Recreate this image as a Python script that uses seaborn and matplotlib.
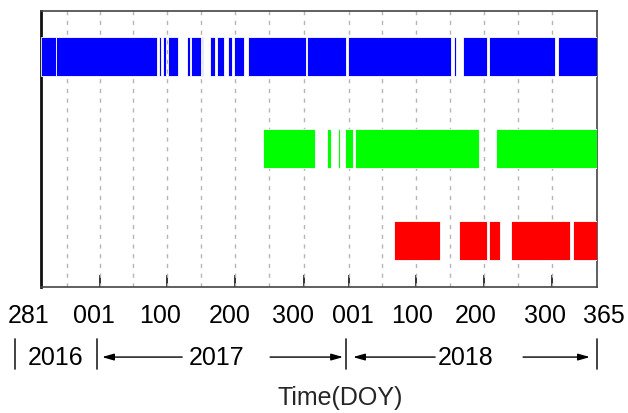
import matplotlib
matplotlib.use("Agg")
import matplotlib.pyplot as plt
import seaborn as sns
import pandas as pd

# ---------------- data (time = days since 2016 DOY 281) ----------------
series = ["blue", "green", "red"]
blue_start = [0, 22, 173, 179, 186, 213.5, 220, 235.5, 248, 257.5, 274.5, 282.5, 304, 390, 450.5, 606, 619, 657, 758]
blue_end   = [22, 170, 175.5, 184, 200.5, 218.5, 234, 237, 255.5, 269, 280, 297.5, 389, 447, 602, 608.5, 654.5, 754, 815]
green_start = [325, 420, 435, 446, 460.5, 667]
green_end   = [402, 425.5, 438.5, 458, 642.5, 815]
red_start = [518, 613, 657, 690, 780.5]
red_end   = [585, 654.5, 673, 776, 815]

tick_labels = ["281", "001", "100", "200", "300", "001", "100", "200", "300", "365"]
year_labels = ["2016", "2017", "2018"]
xlabel = "Time(DOY)"

# ---------------- layout ----------------
major_ticks = [86, 185, 285, 385, 451, 550, 650, 750]
grid_pos = [38, 86, 135, 185, 235, 285, 335, 385, 451, 500, 550, 600, 650, 700, 750]
label_x = [-17.9, 77.7, 174.5, 277, 370, 458, 543.6, 637.7, 739, 825.7]
year_x = [22, 258, 622]
bars_x = [-38, 82, 447, 815]
arrows = [(207, 89.5), (336, 443), (578, 457.6), (707, 805)]

rows = []
for name, s, e in [("blue", blue_start, blue_end), ("green", green_start, green_end), ("red", red_start, red_end)]:
    for a, b in zip(s, e):
        rows.append({"series": name, "start": a, "dur": b - a})
df = pd.DataFrame(rows)
colors = {"blue": "#0000FF", "green": "#00FF00", "red": "#FF0000"}

sns.set_style("white")
plt.rcParams["font.family"] = ["Liberation Sans", "DejaVu Sans"]

fig = plt.figure(figsize=(6.28, 4.14), dpi=100)
ax = fig.add_axes([0.0653, 0.3051, 0.8849, 0.6667])

ypos = {n: i for i, n in enumerate(series)}
for name, g in df.groupby("series", sort=False):
    ax.barh([ypos[name]] * len(g), g["dur"], left=g["start"], height=0.42,
            color=colors[name], edgecolor="white", linewidth=0.6, zorder=3)

ax.set_xlim(0, 815)
ax.set_ylim(2.5, -0.5)
ax.set_yticks([])
ax.set_xticks(major_ticks)
ax.set_xticklabels([])
ax.set_xticks(grid_pos, minor=True)
ax.tick_params(axis="x", which="major", direction="in", length=8.5, width=1.3,
               color="#222222", bottom=True, top=False)
ax.tick_params(axis="x", which="minor", length=0)
ax.grid(False)
for gx in grid_pos:
    ax.axvline(gx, color="#b5b5b5", lw=1.0, ls=(0, (3, 4)), zorder=1)

for side in ["top", "right", "bottom"]:
    ax.spines[side].set_color("#444444")
    ax.spines[side].set_linewidth(1.2)
ax.spines["left"].set_color("#111111")
ax.spines["left"].set_linewidth(2.0)

trans = ax.get_xaxis_transform()
for x, t in zip(label_x, tick_labels):
    ax.text(x, -0.129, t, transform=trans, ha="center", va="baseline",
            fontsize=18, color="black", clip_on=False)

for x, t in zip(year_x, year_labels):
    ax.text(x, -0.280, t, transform=trans, ha="center", va="baseline",
            fontsize=18, color="black", clip_on=False)

for bx in bars_x:
    ax.plot([bx, bx], [-0.19, -0.30], transform=trans, color="#222222",
            lw=1.2, clip_on=False)

for tail, head in arrows:
    ax.annotate("", xy=(head, -0.255), xytext=(tail, -0.255), xycoords=trans,
                textcoords=trans, annotation_clip=False,
                arrowprops=dict(arrowstyle="-|>,head_length=0.7,head_width=0.2",
                                color="black", lw=1.0, shrinkA=0, shrinkB=0))

fig.text(340 / 628, 1 - 405 / 414, xlabel, ha="center", va="baseline", fontsize=18)

fig.savefig("out.png", dpi=100, facecolor="white")
